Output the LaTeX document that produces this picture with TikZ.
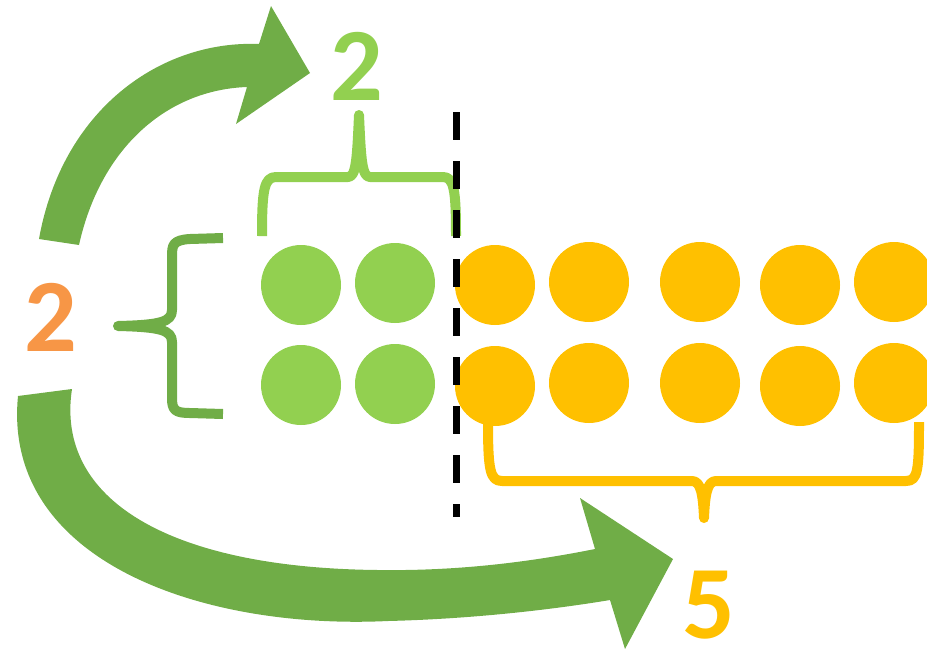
\documentclass[tikz,border=0pt]{standalone}
\usepackage{fontspec}
\setmainfont{Carlito}
\definecolor{lightgreen}{HTML}{92D050}
\definecolor{darkgreen}{HTML}{70AD47}
\definecolor{amber}{HTML}{FFC000}
\definecolor{peach}{HTML}{F79646}
\begin{document}
\begin{tikzpicture}[x=0.75pt, y=-0.75pt,
  dot/.style={shape=circle,minimum size=60pt,inner sep=0pt},
  digit/.style={font=\fontsize{78}{80}\selectfont\bfseries,inner sep=0pt},
  brace/.style={line width=7.5pt,line join=round}]
\useasboundingbox (0,0) rectangle (927,650);
\node (G1) at (301,285) [dot,fill=lightgreen]{};
\node (G2) at (395,283) [dot,fill=lightgreen]{};
\node (G3) at (301,385) [dot,fill=lightgreen]{};
\node (G4) at (395,384) [dot,fill=lightgreen]{};
\node (Y1) at (495,285) [dot,fill=amber]{};
\node (Y2) at (589,282) [dot,fill=amber]{};
\node (Y3) at (700,282) [dot,fill=amber]{};
\node (Y4) at (800,285) [dot,fill=amber]{};
\node (Y5) at (894,282) [dot,fill=amber]{};
\node (Y6) at (495,386) [dot,fill=amber]{};
\node (Y7) at (589,383) [dot,fill=amber]{};
\node (Y8) at (700,383) [dot,fill=amber]{};
\node (Y9) at (800,386) [dot,fill=amber]{};
\node (Y10) at (894,383) [dot,fill=amber]{};
\node (top) at (357,66) [digit,text=lightgreen]{2};
\node (rows) at (51,317) [digit,text=peach]{2};
\node (cols) at (709,605) [digit,text=amber]{5};
% braces
\draw [brace,lightgreen] (262,236) .. controls (262,190) and (264,177) .. (276,177) -- (348,177)
  .. controls (356,177) and (357,160) .. (359,115) .. controls (361,160) and (362,177) .. (370,177)
  -- (443,177) .. controls (454,177) and (456,190) .. (456,236);
\draw [brace,darkgreen] (223,238) -- (190,239) .. controls (173,240) and (172,245) .. (172,256) -- (172,310)
  .. controls (172,322) and (160,325) .. (118,326) .. controls (160,327) and (172,330) .. (172,342)
  -- (172,398) .. controls (172,410) and (175,413) .. (190,413) -- (223,414);
\draw [brace,amber] (488,422) .. controls (488,470) and (490,481) .. (502,481) -- (692,481)
  .. controls (701,481) and (703,495) .. (704,518) .. controls (705,495) and (707,481) .. (716,481)
  -- (906,481) .. controls (918,481) and (919,470) .. (919,422);
% split line
\coordinate (cutA) at (456,112);
\coordinate (cutB) at (456,517);
\draw [line width=5.25pt,dash pattern=on 21pt off 15.75pt] (cutA) -- (cutB);
% turning arrows
\fill [darkgreen] (39,239) .. controls (62,110) and (160,40) .. (259,44) -- (271,6) -- (310,73)
  -- (236,124) -- (247,87) .. controls (165,90) and (100,150) .. (79,245) -- cycle;
\fill [darkgreen] (18,396) .. controls (2,560) and (200,630) .. (388,621)
  .. controls (470,619) and (550,610) .. (610,600) -- (625,649) -- (673,559) -- (580,498) -- (595,549)
  .. controls (520,564) and (450,571) .. (378,570) .. controls (170,568) and (55,500) .. (72,389) -- cycle;
\end{tikzpicture}
\end{document}
